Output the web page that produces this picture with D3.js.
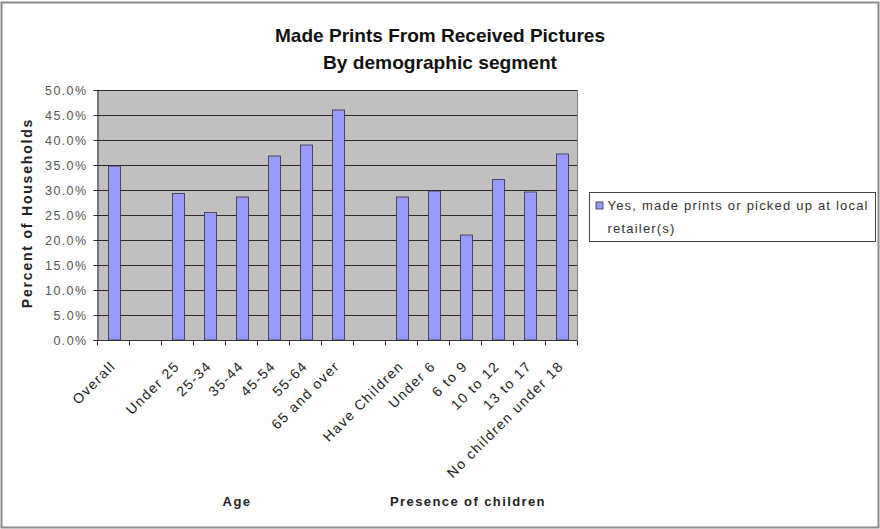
<!DOCTYPE html>
<html>
<head>
<meta charset="utf-8">
<script src="https://cdn.jsdelivr.net/npm/d3@7"></script>
<style>
  html, body { margin: 0; padding: 0; background: #fff; }
  svg { display: block; }
  text { font-family: Arial, "Liberation Sans", sans-serif; }
</style>
</head>
<body>
<svg id="chart" width="880" height="529"></svg>
<script>
// Category slots along the x axis (empty strings are spacer slots between groups)
const categories = ["Overall", "", "Under 25", "25-34", "35-44", "45-54", "55-64", "65 and over",
                    "", "Have Children", "Under 6", "6 to 9", "10 to 12", "13 to 17", "No children under 18"];
// Share of households (%) that made prints from received pictures; null = no bar
const values = [34.8, null, 29.3, 25.5, 28.6, 36.8, 39.0, 46.0,
                null, 28.6, 29.8, 21.0, 32.1, 29.6, 37.2];
const yTicks = [0, 5, 10, 15, 20, 25, 30, 35, 40, 45, 50];
const groupLabels = [
  { text: "Age", cx: 237 },
  { text: "Presence of children", cx: 468 }
];
const seriesName = ["Yes, made prints or picked up at local", "retailer(s)"];
const titleLines = [
  { text: "Made Prints From Received Pictures", cx: 440, width: 330 },
  { text: "By demographic segment", cx: 440, width: 234 }
];

const svg = d3.select("#chart");
const W = 880, H = 529;
const plot = { left: 97, top: 90, right: 577, bottom: 340 };

// Outer chart frame
svg.append("rect").attr("x", 1.5).attr("y", 2.5).attr("width", W - 3).attr("height", H - 4)
  .attr("fill", "#fff").attr("stroke", "#8a8a8a").attr("stroke-width", 2);

const x = d3.scaleBand().domain(d3.range(categories.length))
  .range([plot.left, plot.right]).paddingInner(0).paddingOuter(0);
const y = d3.scaleLinear().domain([0, 50]).range([plot.bottom, plot.top]);

// Plot area background
svg.append("rect").attr("x", plot.left).attr("y", plot.top)
  .attr("width", plot.right - plot.left).attr("height", plot.bottom - plot.top)
  .attr("fill", "#c0c0c0");

// Horizontal gridlines
svg.append("g").selectAll("line").data(yTicks.filter(d => d > 0)).join("line")
  .attr("x1", plot.left).attr("x2", plot.right)
  .attr("y1", d => Math.round(y(d)) + 0.5).attr("y2", d => Math.round(y(d)) + 0.5)
  .attr("stroke", "#2a2a2a").attr("stroke-width", 1);

// Plot area right edge
svg.append("line").attr("x1", plot.right + 0.5).attr("x2", plot.right + 0.5)
  .attr("y1", plot.top).attr("y2", plot.bottom).attr("stroke", "#808080");

// Bars
const barW = x.bandwidth() * 0.38;
svg.append("g").selectAll("rect")
  .data(values.map((v, i) => ({ v, i })).filter(d => d.v !== null))
  .join("rect")
  .attr("x", d => x(d.i) + (x.bandwidth() - barW) / 2 + 1.5)
  .attr("y", d => y(d.v))
  .attr("width", barW)
  .attr("height", d => y(0) - y(d.v))
  .attr("fill", "#9999ff")
  .attr("stroke", "#333")
  .attr("stroke-width", 0.8);

// Y axis
const yAxis = d3.axisLeft(y).tickValues(yTicks).tickSize(4).tickPadding(6)
  .tickFormat(d => d.toFixed(1) + "%");
const gy = svg.append("g").attr("transform", `translate(${plot.left + 0.5},0)`).call(yAxis);
gy.select(".domain").attr("stroke", "#333");
gy.selectAll(".tick line").attr("stroke", "#333");
gy.selectAll(".tick text").attr("font-size", 12.5).attr("fill", "#555")
  .attr("font-family", "Arial, 'Liberation Sans', sans-serif")
  .style("letter-spacing", "1.4px");

// X axis: tick marks sit on slot boundaries, labels centered in slots
const gx = svg.append("g").attr("transform", `translate(0,${plot.bottom + 0.5})`);
gx.append("line").attr("x1", plot.left).attr("x2", plot.right).attr("stroke", "#333");
gx.selectAll("line.tk").data(d3.range(categories.length + 1)).join("line")
  .attr("class", "tk")
  .attr("x1", i => Math.round(plot.left + i * x.bandwidth()) + 0.5)
  .attr("x2", i => Math.round(plot.left + i * x.bandwidth()) + 0.5)
  .attr("y1", 0).attr("y2", 5).attr("stroke", "#333");
gx.selectAll("text").data(categories.map((c, i) => ({ c, i })).filter(d => d.c !== ""))
  .join("text")
  .attr("transform", d => `translate(${x(d.i) + x.bandwidth() / 2},23) rotate(-45)`)
  .attr("text-anchor", "end")
  .attr("dy", "0.35em")
  .attr("font-size", 14)
  .attr("fill", "#222")
  .style("letter-spacing", "1.4px")
  .text(d => d.c);

// Group labels below the category labels
svg.append("g").selectAll("text").data(groupLabels).join("text")
  .attr("x", d => d.cx)
  .attr("y", 506)
  .attr("text-anchor", "middle")
  .attr("font-size", 13).attr("font-weight", "bold").attr("fill", "#222")
  .style("letter-spacing", "1.4px")
  .text(d => d.text);

// Y axis title
svg.append("text")
  .attr("transform", `translate(32,213) rotate(-90)`)
  .attr("text-anchor", "middle")
  .attr("font-size", 14).attr("font-weight", "bold").attr("fill", "#222")
  .style("letter-spacing", "1.8px")
  .text("Percent of Households");

// Title (condensed bold)
svg.append("g").selectAll("text").data(titleLines).join("text")
  .attr("x", d => d.cx - d.width / 2)
  .attr("y", (d, i) => 42 + i * 27)
  .attr("textLength", d => d.width)
  .attr("lengthAdjust", "spacingAndGlyphs")
  .attr("font-size", 19).attr("font-weight", "bold").attr("fill", "#111")
  .text(d => d.text);

// Legend
const lg = svg.append("g").attr("transform", "translate(589.5,192.5)");
lg.append("rect").attr("width", 286).attr("height", 49)
  .attr("fill", "#fff").attr("stroke", "#444").attr("stroke-width", 1);
lg.append("rect").attr("x", 6.5).attr("y", 9.5).attr("width", 7).attr("height", 7)
  .attr("fill", "#9999ff").attr("stroke", "#333").attr("stroke-width", 0.8);
lg.selectAll("text.lab").data(seriesName).join("text").attr("class", "lab")
  .attr("x", 18).attr("y", (d, i) => 17 + i * 23)
  .attr("font-size", 13).attr("fill", "#333")
  .style("letter-spacing", "1.2px")
  .text(d => d);
</script>
</body>
</html>
